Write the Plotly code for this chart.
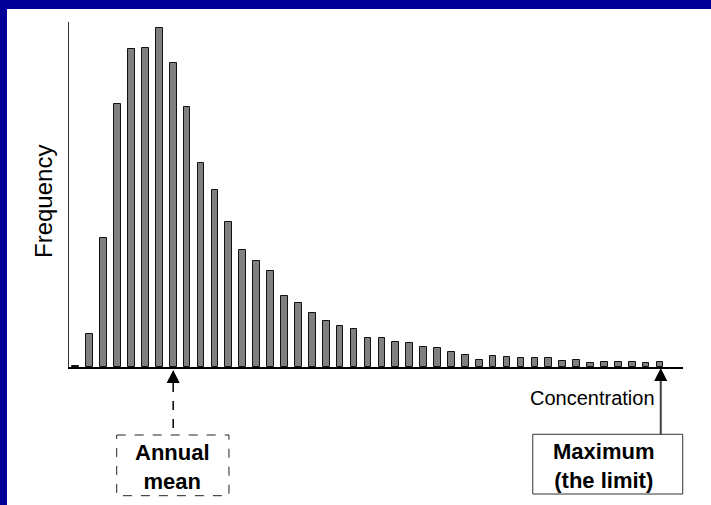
import plotly.graph_objects as go

# ---- data (arbitrary frequency units) ----
bins = list(range(43))
frequency = [1.3, 33, 129, 263, 318, 319, 339, 304, 260, 204, 177, 145, 117, 106, 96,
             71, 64, 54, 46, 41, 38, 29, 29, 25, 24, 20, 19, 15, 12, 7,
             11, 10, 9, 9, 9, 6, 7, 4, 5, 5, 5, 4, 5]
mean_bin = 7
max_bin = 42
y_label = "Frequency"
x_label = "Concentration"
mean_label = "<b>Annual<br>mean</b>"
max_label = "<b>Maximum<br>(the limit)</b>"

X0, X1 = -0.49, 43.65
YMAX = 345
FONT = "Arial, Liberation Sans, sans-serif"
BLUE = "#000099"


def xp(x):
    return (x - X0) / (X1 - X0)


def yp(y):
    return y / YMAX


def head_path(xc, tip, height=13, half_w=0.47):
    return (f"M {xp(xc)},{yp(tip)} L {xp(xc - half_w)},{yp(tip - height)} "
            f"L {xp(xc + half_w)},{yp(tip - height)} Z")


fig = go.Figure()
fig.add_trace(go.Bar(
    x=bins, y=frequency, width=0.48,
    marker=dict(color="#808080", line=dict(color="#111111", width=1)),
    hoverinfo="skip",
))

shapes = []
# annual mean: arrow head, dashed stem and dashed box
shapes.append(dict(type="path", xref="paper", yref="paper", path=head_path(mean_bin, -3),
                   fillcolor="black", line=dict(width=0)))
shapes.append(dict(type="line", xref="paper", yref="paper",
                   x0=xp(mean_bin), x1=xp(mean_bin), y0=yp(-16), y1=yp(-68),
                   line=dict(color="black", width=1.5, dash="dash")))
shapes.append(dict(type="rect", xref="paper", yref="paper",
                   x0=xp(2.94), x1=xp(11.01), y0=yp(-68), y1=yp(-128.7),
                   line=dict(color="#222222", width=1, dash="dash")))
# maximum: arrow head, solid stem and box
shapes.append(dict(type="path", xref="paper", yref="paper", path=head_path(max_bin + 0.05, -1),
                   fillcolor="black", line=dict(width=0)))
shapes.append(dict(type="line", xref="paper", yref="paper",
                   x0=xp(max_bin + 0.05), x1=xp(max_bin + 0.05), y0=yp(-14), y1=yp(-67.3),
                   line=dict(color="#404040", width=2)))
shapes.append(dict(type="rect", xref="paper", yref="paper",
                   x0=xp(32.85), x1=xp(43.63), y0=yp(-67.3), y1=yp(-127),
                   line=dict(color="#333333", width=1)))
# blue slide frame (top and left)
shapes.append(dict(type="rect", xref="paper", yref="paper", layer="above",
                   x0=-69 / 614, x1=-62 / 614, y0=-138 / YMAX, y1=1 + 22 / YMAX,
                   line=dict(width=0), fillcolor=BLUE))
shapes.append(dict(type="rect", xref="paper", yref="paper", layer="above",
                   x0=-69 / 614, x1=642 / 614, y0=1 + 13 / YMAX, y1=1 + 22 / YMAX,
                   line=dict(width=0), fillcolor=BLUE))

annotations = [
    dict(text=y_label, xref="paper", yref="paper", x=-26 / 614, y=yp(165),
         textangle=-90, showarrow=False, xanchor="center", yanchor="middle",
         font=dict(family=FONT, size=24, color="black")),
    dict(text=x_label, xref="x", yref="paper", x=max_bin, xshift=-3, y=yp(-31),
         showarrow=False, xanchor="right", yanchor="middle",
         font=dict(family=FONT, size=20, color="black")),
    dict(text=mean_label, xref="x", yref="paper", x=6.95, y=yp(-99.8),
         showarrow=False, xanchor="center", yanchor="middle",
         font=dict(family=FONT, size=22, color="black")),
    dict(text=max_label, xref="x", yref="paper", x=37.97, y=yp(-99),
         showarrow=False, xanchor="center", yanchor="middle",
         font=dict(family=FONT, size=22, color="black")),
]

fig.update_layout(
    width=711, height=505,
    margin=dict(l=69, r=28, t=22, b=138, pad=0),
    paper_bgcolor="white", plot_bgcolor="white",
    showlegend=False, bargap=0,
    shapes=shapes, annotations=annotations,
    xaxis=dict(range=[X0, X1], showline=True, linecolor="black", linewidth=2,
               showticklabels=False, ticks="", showgrid=False, zeroline=False),
    yaxis=dict(range=[0, YMAX], showline=True, linecolor="#333333", linewidth=1,
               showticklabels=False, ticks="", showgrid=False, zeroline=False),
)

fig.write_html("out.html", config={"displayModeBar": False},
               post_script="document.body.style.margin='0';")
